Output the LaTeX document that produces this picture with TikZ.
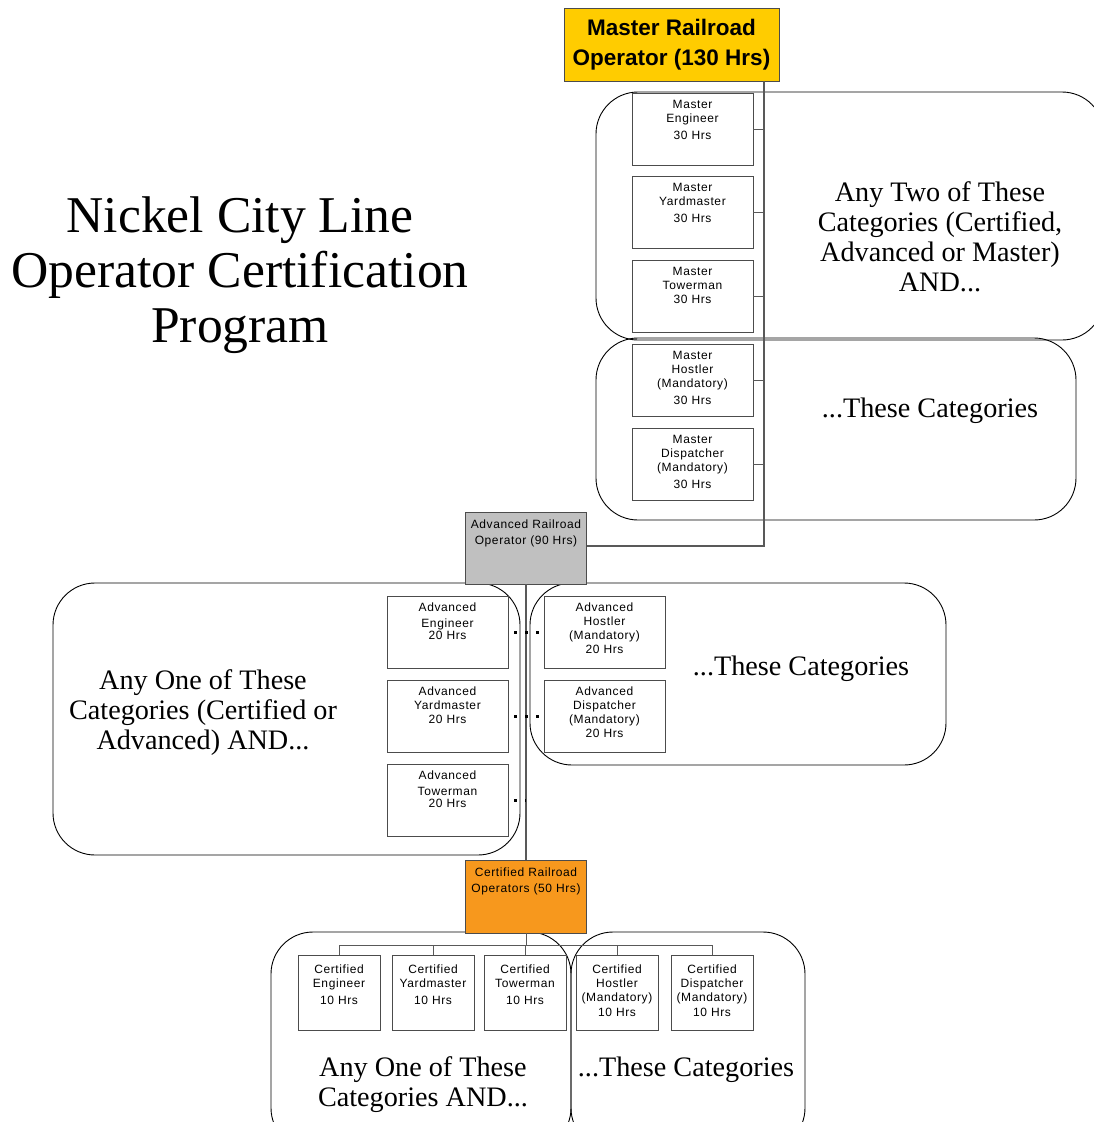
\documentclass[tikz,border=0pt]{standalone}
\usepackage{fontspec}
\setmainfont{Liberation Serif}
\setsansfont{Liberation Sans}
\definecolor{mgold}{HTML}{FFCC00}
\definecolor{agray}{HTML}{C0C0C0}
\definecolor{corange}{HTML}{F7981D}
\begin{document}
\begin{tikzpicture}[x=1pt,y=-1pt,
  region/.style={draw=black, line width=0.9pt, rounded corners=42pt},
  conn/.style={draw=black!65, line width=1.2pt},
  dotline/.style={draw=black, line width=3pt, dash pattern=on 3pt off 8pt, dash phase=5pt},
  bigbox/.style={draw=black!70, line width=0.9pt, minimum width=121pt, minimum height=72pt, inner sep=0pt},
  cbox/.style={draw=black!70, line width=0.9pt, fill=white, minimum width=82pt, minimum height=75pt, inner sep=0pt},
  sbox/.style={bigbox, fill=white},
  lbl/.style={anchor=north, inner sep=0pt, align=center, font=\sffamily\addfontfeature{LetterSpace=5}\fontsize{12}{14}\selectfont},
  rtext/.style={align=center, inner sep=0pt, font=\rmfamily\fontsize{28.2}{30}\selectfont},
]
\useasboundingbox (0,0) rectangle (1094,1122);

% ---------- regions ----------
\draw[region] (596,92) rectangle (1104,340);
\draw[region] (596,338) rectangle (1076,520);
\draw[region] (53,583) rectangle (520,855);
\draw[region] (530,583) rectangle (946,765);
\draw[region] (271,932) rectangle (571,1150);
\draw[region] (571,932) rectangle (805,1150);

% ---------- region texts ----------
\node[rtext] (t1) at (940,237) {Any Two of These\\Categories (Certified,\\Advanced or Master)\\AND...};
\node[rtext] (t2) at (930,411) {...These Categories};
\node[rtext] (t3) at (203,713) {Any One of These\\Categories (Certified or\\Advanced) AND...};
\node[rtext] (t4) at (801,669) {...These Categories};
\node[rtext] (t5) at (423,1085) {Any One of These\\Categories AND...};
\node[rtext] (t6) at (686,1070) {...These Categories};

% ---------- title ----------
\node[align=center, inner sep=0pt, font=\rmfamily\fontsize{51.6}{55}\selectfont] (title) at (240,275)
  {Nickel City Line\\Operator Certification\\Program};

% ---------- main operator boxes ----------
\node[draw=black!70, line width=0.9pt, fill=mgold, minimum width=215pt, minimum height=73pt, inner sep=0pt,
  align=center, font=\sffamily\bfseries\fontsize{22.5}{30}\selectfont] (mop) at (671.5,44.5)
  {Master Railroad\\Operator (130 Hrs)};
\node[bigbox, fill=agray, label={[lbl, yshift=-8pt]north:{Advanced Railroad\\[2pt]Operator (90 Hrs)}}] (aop) at (526,548) {};
\node[bigbox, fill=corange, minimum height=73pt, label={[lbl, yshift=-8pt]north:{Certified Railroad\\[2pt]Operators (50 Hrs)}}] (cop) at (526,896.5) {};

% ---------- connectors ----------
\coordinate (mv) at (764,546);
\coordinate (cbar) at (526,945);
\draw[conn] (mv |- mop.south) -- (mv) -- (aop.east |- mv);
\draw[conn] (aop.south) -- (cop.north);

% ---------- master boxes ----------
\node[sbox, label={[lbl, yshift=-7pt]north:{Master\\Engineer\\[3pt]30 Hrs}}] (me) at (692.5,129) {};
\node[sbox, label={[lbl, yshift=-7pt]north:{Master\\Yardmaster\\[3pt]30 Hrs}}] (my) at (692.5,212.5) {};
\node[sbox, label={[lbl, yshift=-7pt]north:{Master\\Towerman\\30 Hrs}}] (mt) at (692.5,296.5) {};
\node[sbox, label={[lbl, yshift=-7pt]north:{Master\\Hostler\\(Mandatory)\\[3pt]30 Hrs}}] (mh) at (692.5,380) {};
\node[sbox, label={[lbl, yshift=-7pt]north:{Master\\Dispatcher\\(Mandatory)\\[3pt]30 Hrs}}] (md) at (692.5,464) {};
\foreach \b in {me,my,mt,mh,md} \draw[conn, line width=0.9pt] (\b.east) -- (\b.east -| mv);

% ---------- advanced boxes ----------
\node[sbox, label={[lbl, yshift=-7pt]north:{Advanced\\[2pt]Engineer\\[-2pt]20 Hrs}}] (ae) at (447.5,632) {};
\node[sbox, label={[lbl, yshift=-7pt]north:{Advanced\\Yardmaster\\20 Hrs}}] (ay) at (447.5,716) {};
\node[sbox, label={[lbl, yshift=-7pt]north:{Advanced\\[2pt]Towerman\\[-2pt]20 Hrs}}] (at) at (447.5,800) {};
\node[sbox, label={[lbl, yshift=-7pt]north:{Advanced\\Hostler\\(Mandatory)\\20 Hrs}}] (ah) at (604.5,632) {};
\node[sbox, label={[lbl, yshift=-7pt]north:{Advanced\\Dispatcher\\(Mandatory)\\20 Hrs}}] (ad) at (604.5,716) {};
\draw[dotline] (ae.east) -- (ah.west);
\draw[dotline] (ay.east) -- (ad.west);
\draw[dotline] (at.east) -- (at.east -| aop.south);

% ---------- certified boxes ----------
\node[cbox, label={[lbl, yshift=-10pt]north:{Certified\\Engineer\\[3pt]10 Hrs}}] (ce) at (339,992.5) {};
\node[cbox, label={[lbl, yshift=-10pt]north:{Certified\\Yardmaster\\[3pt]10 Hrs}}] (cy) at (433,992.5) {};
\node[cbox, label={[lbl, yshift=-10pt]north:{Certified\\Towerman\\[3pt]10 Hrs}}] (ct) at (525,992.5) {};
\node[cbox, label={[lbl, yshift=-10pt]north:{Certified\\Hostler\\(Mandatory)\\[1pt]10 Hrs}}] (ch) at (617,992.5) {};
\node[cbox, label={[lbl, yshift=-10pt]north:{Certified\\Dispatcher\\(Mandatory)\\[1pt]10 Hrs}}] (cd) at (712,992.5) {};
\draw[conn, line width=0.9pt] (cop.south) -- (cbar);
\draw[conn, line width=0.9pt] (ce.north) -- (ce.north |- cbar) -- (cd.north |- cbar) -- (cd.north);
\foreach \b in {cy,ct,ch} \draw[conn, line width=0.9pt] (\b.north) -- (\b.north |- cbar);
\end{tikzpicture}
\end{document}
